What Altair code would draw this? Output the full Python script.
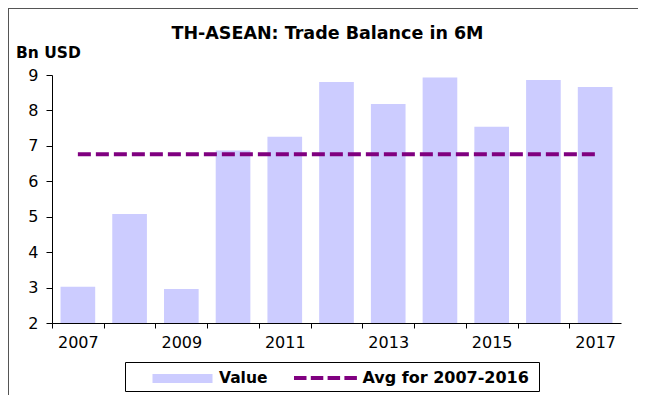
import altair as alt
import pandas as pd

years = [2007, 2008, 2009, 2010, 2011, 2012, 2013, 2014, 2015, 2016, 2017]
values = [3.02, 5.08, 2.96, 6.87, 7.26, 8.80, 8.18, 8.93, 7.54, 8.86, 8.66]
avg_value = 6.76
avg_start, avg_end = 2007, 2017

title_text = "TH-ASEAN: Trade Balance in 6M"
unit_text = "Bn USD"
legend_labels = ["Value", "Avg for 2007-2016"]

FONT = "DejaVu Sans"
BAR = "#CCCCFF"
LINE = "#800080"

df = pd.DataFrame({"year": years, "value": values})
avg_df = pd.DataFrame({"x0": [avg_start], "x1": [avg_end], "avg": [avg_value]})
one = pd.DataFrame({"a": [0]})

W, H = 569, 248
BAND = W / len(years)

xscale = alt.Scale(domain=[years[0] - 0.5, years[-1] + 0.5], nice=False, zero=False)
yscale = alt.Scale(domain=[2, 9], nice=False, zero=False)

label_expr = (
    "datum.value % 2 == 1 && datum.value <= " + str(years[-1]) + " ? datum.label : ''"
)

xaxis = alt.Axis(
    values=years + [years[-1] + 1],
    format="d",
    labelExpr=label_expr,
    tickOffset=-BAND / 2,
    labelOffset=BAND / 2,
    tickSize=5,
    labelPadding=6,
    labelOverlap=False,
    title=None,
)
yaxis = alt.Axis(
    values=list(range(2, 10)),
    tickSize=6,
    labelPadding=8,
    labelOverlap=False,
    title=None,
)

bars = alt.Chart(df).transform_calculate(
    x0="datum.year - 0.335", x1="datum.year + 0.335"
).mark_bar(color=BAR).encode(
    x=alt.X("x0:Q", scale=xscale, axis=xaxis),
    x2="x1:Q",
    y=alt.Y("value:Q", scale=yscale, axis=yaxis),
    y2=alt.datum(2),
)

avg_line = alt.Chart(avg_df).mark_rule(
    color=LINE, strokeWidth=4, strokeDash=[13, 5]
).encode(
    x=alt.X("x0:Q", scale=xscale, axis=xaxis),
    x2="x1:Q",
    y=alt.Y("avg:Q", scale=yscale, axis=yaxis),
)

title = alt.Chart(one).mark_text(
    text=title_text, font=FONT, fontSize=17.5, fontWeight="bold",
    align="center", baseline="middle", color="black"
).encode(x=alt.value(275.5), y=alt.value(-41))

unit = alt.Chart(one).mark_text(
    text=unit_text, font=FONT, fontSize=15.5, fontWeight="bold",
    align="left", baseline="middle", color="black"
).encode(x=alt.value(-36), y=alt.value(-22))

legend_box = alt.Chart(one).mark_rect(
    fill="white", fillOpacity=0, stroke="black", strokeWidth=1
).encode(x=alt.value(73.5), x2=alt.value(487.5), y=alt.value(287.5), y2=alt.value(316.5))

legend_bar = alt.Chart(one).mark_rect(color=BAR).encode(
    x=alt.value(100.5), x2=alt.value(160.5), y=alt.value(299), y2=alt.value(308)
)
legend_line = alt.Chart(one).mark_rule(
    color=LINE, strokeWidth=4, strokeDash=[12.5, 4.3]
).encode(x=alt.value(242), x2=alt.value(305), y=alt.value(303))

legend_t1 = alt.Chart(one).mark_text(
    text=legend_labels[0], font=FONT, fontSize=15.5, fontWeight="bold",
    align="left", baseline="middle", color="black"
).encode(x=alt.value(167), y=alt.value(303))
legend_t2 = alt.Chart(one).mark_text(
    text=legend_labels[1], font=FONT, fontSize=16, fontWeight="bold",
    align="left", baseline="middle", color="black"
).encode(x=alt.value(310.5), y=alt.value(303))

frame_top = alt.Chart(one).mark_rule(color="#555555", strokeWidth=1).encode(
    x=alt.value(-44), x2=alt.value(586), y=alt.value(-66.5)
)
frame_left = alt.Chart(one).mark_rule(color="#555555", strokeWidth=1).encode(
    x=alt.value(-43.5), y=alt.value(-67), y2=alt.value(320)
)

chart = alt.layer(
    frame_top, frame_left, bars, avg_line, title, unit,
    legend_box, legend_bar, legend_line, legend_t1, legend_t2
).properties(
    width=W, height=H,
    autosize=alt.AutoSizeParams(type="none"),
    padding={"left": 44, "top": 67, "right": 17, "bottom": 72},
).configure_view(stroke=None).configure_axis(
    tickColor="black",
    domainColor="black",
    labelColor="black",
    labelFont=FONT,
    labelFontSize=16,
    labelOverlap=False,
    labelBound=False,
    labelFlush=False,
    grid=False,
)

chart.save("out.html", embed_options={"renderer": "svg", "actions": False})
